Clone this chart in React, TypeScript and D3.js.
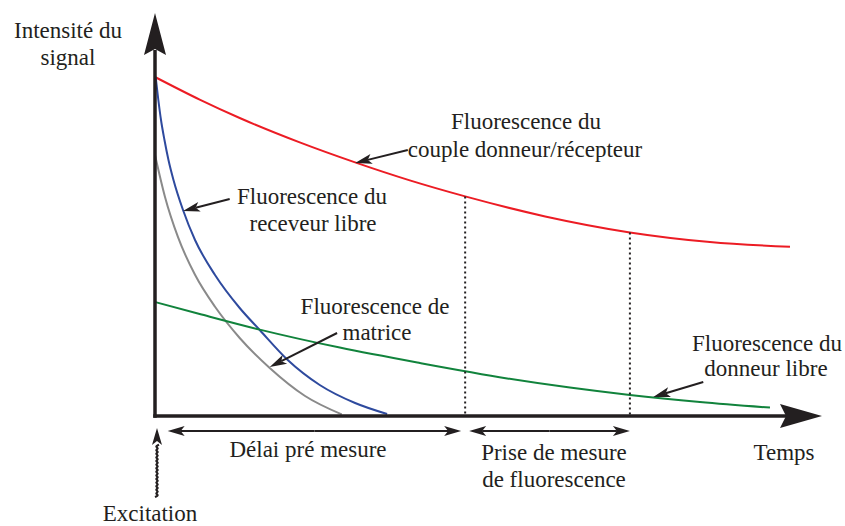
import React from 'react';
import * as d3 from 'd3';

// Fluorescence du couple donneur/récepteur (red)
const coupleT = [0, 6.7, 12.7, 21.7, 30.0, 38.2, 46.5, 58.5, 71.2, 83.2, 95.2];
const coupleV = [84.75, 79.1, 74.5, 68.4, 63.4, 58.9, 54.9, 49.9, 45.9, 43.5, 42.3];
// Fluorescence du receveur libre (blue)
const receveurT = [0.1, 0.5, 0.9, 1.42, 2.02, 2.77, 4.2, 6.0, 9.0, 12.7, 15.7, 19.9, 24.7, 30.0, 34.8];
const receveurV = [84.75, 79, 74, 69, 64, 59, 51.5, 44, 35.25, 27, 21.5, 14, 7.75, 3.25, 0.5];
// Fluorescence de matrice (gray)
const matriceT = [0, 1.5, 3.45, 6.0, 9.0, 12.7, 17.2, 22.5, 28.0];
const matriceV = [65.25, 54.75, 44.7, 35.3, 27.3, 19.5, 12, 5, 0.4];
// Fluorescence du donneur libre (green)
const donneurT = [0, 6.7, 15.7, 27.7, 39.7, 52.8, 62.2, 71.2, 81.7, 92.2];
const donneurV = [28.5, 25.5, 21.6, 17.1, 13.25, 9.4, 7.1, 5.25, 3.5, 2.1];

// measurement window (dotted lines) and time spans
const windowT = [46.5, 71.2];
const delaySpan = [1.9, 45.9];
const measureSpan = [47.1, 71.2];

const W = 845;
const H = 526;
const x = d3.scaleLinear().domain([0, 100]).range([155, 822]);
const y = d3.scaleLinear().domain([0, 100]).range([416, 16]);

const line = d3
  .line<[number, number]>()
  .x((d) => x(d[0]))
  .y((d) => y(d[1]))
  .curve(d3.curveMonotoneX);

const zip = (ts: number[], vs: number[]) => ts.map((t, i) => [t, vs[i]] as [number, number]);

const series = [
  { t: coupleT, v: coupleV, color: '#ec1c24' },
  { t: receveurT, v: receveurV, color: '#2e4a9e' },
  { t: matriceT, v: matriceV, color: '#8a8a8a' },
  { t: donneurT, v: donneurV, color: '#11833c' },
];

// stealth arrow head polygon with tip at (tx,ty), pointing from (fx,fy)
function head(fx: number, fy: number, tx: number, ty: number, len: number, hw: number, notch: number) {
  const a = Math.atan2(ty - fy, tx - fx);
  const c = Math.cos(a), s = Math.sin(a);
  const p = (u: number, v: number) => [tx + u * c - v * s, ty + u * s + v * c];
  const pts = [p(0, 0), p(-len, -hw), p(-len + notch, 0), p(-len, hw)];
  return 'M' + pts.map((q) => q.join(',')).join('L') + 'Z';
}

function Arrow({ fx, fy, tx, ty, len = 17, hw = 5, notch = 4, sw = 2 }: any) {
  const a = Math.atan2(ty - fy, tx - fx);
  const ex = tx - Math.cos(a) * (len - notch);
  const ey = ty - Math.sin(a) * (len - notch);
  return (
    <g>
      <line x1={fx} y1={fy} x2={ex} y2={ey} stroke="#231f20" strokeWidth={sw} />
      <path d={head(fx, fy, tx, ty, len, hw, notch)} fill="#231f20" />
    </g>
  );
}

function DoubleArrow({ x1, x2, yy }: any) {
  const m = (x1 + x2) / 2;
  return (
    <g>
      <Arrow fx={m} fy={yy} tx={x1} ty={yy} />
      <Arrow fx={m} fy={yy} tx={x2} ty={yy} />
    </g>
  );
}

// label pointer arrows (data coordinates): [fromT, fromV, toT, toV]
const pointers = [
  [37.9, 66.5, 30.0, 63.25],
  [11.2, 54.25, 4.2, 51.25],
  [27.3, 20.75, 17.2, 12.25],
  [82.2, 8.5, 74.7, 4.75],
];

export default function App() {
  const fontFamily = "'Liberation Serif', 'DejaVu Serif', serif";
  const txtStyle = { fontFamily, fontSize: '23px', fill: '#231f20' };

  // wavy excitation line
  const wave: [number, number][] = [];
  for (let yy = 497, i = 0; yy >= 444; yy -= 1.8, i++) {
    wave.push([157 + (i % 2 === 0 ? -2 : 2), yy]);
  }
  const wavePath = d3.line().curve(d3.curveBasis)(wave) as string;

  const x0 = x(0);
  const yAxis = y(0);

  const T = ({ x: tx, y: ty, children }: any) => (
    <text x={tx} y={ty} textAnchor="middle" style={txtStyle}>
      {children}
    </text>
  );

  return (
    <svg
      width={W}
      height={H}
      style={{ position: 'absolute', left: 0, top: 0, display: 'block', background: '#fff' }}
    >
      <rect width={W} height={H} fill="#fff" />

      {/* curves */}
      {series.map((s, i) => (
        <path key={i} d={line(zip(s.t, s.v)) as string} fill="none" stroke={s.color} strokeWidth={2} />
      ))}

      {/* dotted measurement window */}
      {windowT.map((t, i) => {
        const v = coupleV[coupleT.indexOf(t)];
        return (
          <line
            key={i}
            x1={x(t)}
            x2={x(t)}
            y1={y(v)}
            y2={yAxis}
            stroke="#231f20"
            strokeWidth={2}
            strokeDasharray="2,3"
          />
        );
      })}

      {/* axes */}
      <line x1={x0} y1={yAxis + 1.75} x2={x0} y2={50} stroke="#231f20" strokeWidth={3.5} />
      <path d={head(x0, 100, x0, 13, 42, 11, 6)} fill="#231f20" />
      <line x1={x0 - 1.75} y1={yAxis} x2={790} y2={yAxis} stroke="#231f20" strokeWidth={3.5} />
      <path d={head(700, yAxis, 822, yAxis, 42, 12, 6)} fill="#231f20" />

      {/* pointer arrows */}
      {pointers.map((p, i) => (
        <Arrow key={i} fx={x(p[0])} fy={y(p[1])} tx={x(p[2])} ty={y(p[3])} />
      ))}

      {/* time spans */}
      <DoubleArrow x1={x(delaySpan[0])} x2={x(delaySpan[1])} yy={431} />
      <DoubleArrow x1={x(measureSpan[0])} x2={x(measureSpan[1])} yy={431} />

      {/* excitation */}
      <path d={wavePath} fill="none" stroke="#231f20" strokeWidth={2.2} />
      <path d={head(157, 500, 157, 428, 17, 5, 4)} fill="#231f20" />

      {/* texts */}
      <T x={68} y={38}>Intensité du</T>
      <T x={68} y={65}>signal</T>

      <T x={526} y={129}>Fluorescence du</T>
      <T x={525} y={157}>couple donneur/récepteur</T>

      <T x={312} y={204}>Fluorescence du</T>
      <T x={313} y={231}>receveur libre</T>

      <T x={375} y={314}>Fluorescence de</T>
      <T x={377} y={340}>matrice</T>

      <T x={767} y={351}>Fluorescence du</T>
      <T x={766} y={376}>donneur libre</T>

      <T x={308} y={457}>Délai pré mesure</T>
      <T x={554} y={460}>Prise de mesure</T>
      <T x={554} y={487}>de fluorescence</T>
      <T x={784} y={460}>Temps</T>
      <T x={150} y={521}>Excitation</T>
    </svg>
  );
}
